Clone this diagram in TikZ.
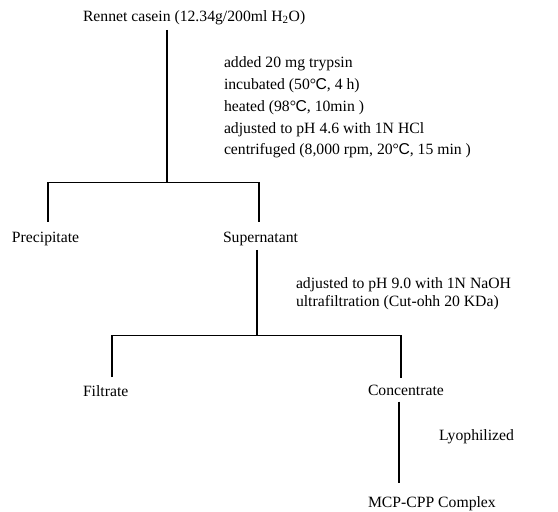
\documentclass[tikz,border=0pt]{standalone}
\usepackage{fontspec}
\setmainfont{Liberation Serif}
\newfontfamily\symfont{Liberation Sans}
\newcommand{\dC}{°\kern-0.5pt{\symfont C}}
\begin{document}
\begin{tikzpicture}
[x=1pt,y=-1pt,
  textDecorate/.style={inner sep=0pt,outer sep=0pt,anchor=base west,
    font=\fontsize{15.7}{18}\selectfont},
  lineDecorate/.style={-,line width=1.7pt}]
\useasboundingbox (0,0) rectangle (558,512);
%% products
\foreach \nodename/\x/\y/\txt in {
  casein/83/21.5/{Rennet casein (12.34g/200ml H\textsubscript{2}O)},
  precip/12/242/Precipitate, super/223/242/Supernatant,
  filtrate/83/396/Filtrate, conc/368/395.5/Concentrate,
  complex/368/507/MCP-CPP Complex}
{
  \node (\nodename) at (\x,\y) [textDecorate] {\txt};
}
%% treatment steps
\foreach \nodename/\x/\y/\txt in {
  step1/224/67.5/added 20 mg trypsin,
  step2/224/89.5/{incubated (50\dC, 4 h)},
  step3/224/111.5/{heated (98\dC, 10min )},
  step4/224/133/adjusted to pH 4.6 with 1N HCl,
  step5/224/154.5/{centrifuged (8,000 rpm, 20\dC, 15 min )},
  step6/296/288.5/adjusted to pH 9.0 with 1N NaOH,
  step7/296/306.5/ultrafiltration (Cut-ohh 20 KDa),
  step8/439/440/Lyophilized}
{
  \node (\nodename) at (\x,\y) [textDecorate] {\txt};
}
%% branch points
\foreach \name/\x/\y in {
  j1/167/182.5, l1/48/182.5, r1/259/182.5,
  j2/257/335.5, l2/112/335.5, r2/401/335.5, j3/399/440}
{
  \coordinate (\name) at (\x,\y);
}
%% lines
\draw[lineDecorate,shorten <=5pt] (casein.south -| j1) -- (j1);
\draw[lineDecorate,shorten <=10pt,shorten >=10pt]
  (precip.north -| l1) -- (l1) -- (r1) -- (super.north -| r1);
\draw[lineDecorate,shorten <=4.6pt] (super.south -| j2) -- (j2);
\draw[lineDecorate,shorten <=8pt,shorten >=7.5pt]
  (filtrate.north -| l2) -- (l2) -- (r2) -- (conc.north -| r2);
\draw[lineDecorate,shorten <=6pt,shorten >=13pt] (conc.south -| j3) -- (complex.north -| j3);
\end{tikzpicture}
\end{document}
